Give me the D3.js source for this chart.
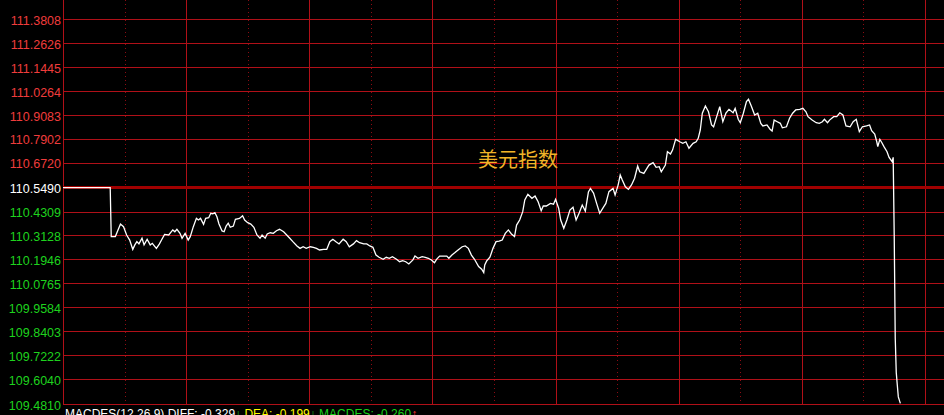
<!DOCTYPE html>
<html><head><meta charset="utf-8">
<script src="https://cdn.jsdelivr.net/npm/d3@7"></script>
<style>html,body{margin:0;padding:0;background:#000;overflow:hidden}svg{display:block}</style>
</head><body><svg id="c" width="944" height="415"></svg>
<script>
// ---- data ----
const tickLabels = ["111.3808","111.2626","111.1445","111.0264","110.9083","110.7902","110.6720","110.5490","110.4309","110.3128","110.1946","110.0765","109.9584","109.8403","109.7222","109.6040","109.4810"];
const refPrice = 110.5490;
const chartTitle = "美元指数";
const minutes = [0,46,47,51,56,59,62,65,68,70,72,74,77,79,82,85,87,91,94,96,99,103,107,109,111,114,116,119,122,124,127,130,132,134,137,139,142,144,146,148,150,152,155,157,159,161,163,166,168,172,175,177,180,183,186,189,192,194,197,199,202,205,208,211,215,218,221,224,228,231,234,237,241,244,247,250,254,257,260,263,266,269,273,276,279,283,286,289,293,296,299,302,305,308,312,315,318,321,325,328,331,334,337,341,343,346,350,353,356,359,362,364,367,371,374,376,379,382,385,389,392,395,398,401,405,408,410,411,413,416,419,422,425,428,431,434,437,440,442,445,448,450,453,457,460,463,466,468,471,475,478,480,483,485,488,491,494,497,500,503,506,509,512,514,517,520,523,527,529,532,536,538,541,543,545,548,551,554,557,560,562,566,569,571,575,578,581,583,587,589,592,594,597,601,604,607,610,614,617,619,621,623,626,629,632,634,637,640,643,646,649,653,655,658,660,663,666,668,671,674,677,680,682,686,689,691,693,696,699,701,705,708,711,714,718,721,724,726,730,734,737,740,742,745,747,751,754,757,760,763,767,770,773,776,779,783,786,788,791,793,794,796,798,800,803,805,808,809,810,811,812,813,814,816];
const prices = [110.549,110.549,110.307,110.307,110.369,110.356,110.315,110.290,110.244,110.266,110.282,110.271,110.299,110.266,110.294,110.266,110.274,110.249,110.271,110.290,110.318,110.315,110.340,110.331,110.343,110.323,110.299,110.323,110.290,110.307,110.356,110.397,110.389,110.397,110.368,110.397,110.400,110.422,110.419,110.425,110.405,110.369,110.335,110.331,110.359,110.373,110.353,110.359,110.392,110.397,110.410,110.389,110.376,110.369,110.353,110.315,110.299,110.315,110.299,110.320,110.326,110.323,110.336,110.343,110.331,110.315,110.299,110.282,110.261,110.249,110.257,110.249,110.257,110.254,110.249,110.241,110.244,110.244,110.282,110.294,110.282,110.271,110.294,110.282,110.257,110.271,110.287,110.277,110.271,110.271,110.261,110.254,110.216,110.205,110.195,110.205,110.200,110.208,110.195,110.183,110.188,110.183,110.172,110.192,110.211,110.200,110.208,110.205,110.200,110.192,110.178,110.195,110.211,110.211,110.211,110.200,110.216,110.228,110.241,110.257,110.261,110.249,110.216,110.195,110.159,110.146,110.129,110.167,110.188,110.205,110.249,110.282,110.285,110.290,110.323,110.340,110.320,110.307,110.364,110.389,110.430,110.488,110.516,110.496,110.507,110.479,110.435,110.458,110.458,110.471,110.467,110.491,110.447,110.389,110.348,110.389,110.438,110.452,110.389,110.424,110.463,110.433,110.527,110.545,110.522,110.471,110.422,110.455,110.471,110.529,110.545,110.512,110.562,110.611,110.586,110.553,110.540,110.562,110.595,110.655,110.627,110.619,110.644,110.660,110.672,110.649,110.652,110.627,110.660,110.726,110.715,110.734,110.787,110.775,110.767,110.775,110.743,110.767,110.775,110.792,110.833,110.916,110.952,110.923,110.858,110.849,110.899,110.948,110.874,110.916,110.935,110.918,110.940,110.886,110.869,110.916,110.973,110.985,110.948,110.907,110.916,110.866,110.853,110.858,110.837,110.828,110.882,110.874,110.866,110.844,110.849,110.891,110.916,110.932,110.935,110.940,110.923,110.899,110.882,110.869,110.866,110.874,110.886,110.869,110.882,110.899,110.899,110.918,110.907,110.853,110.849,110.874,110.886,110.825,110.849,110.853,110.858,110.830,110.813,110.775,110.751,110.787,110.770,110.751,110.726,110.698,110.677,110.698,110.315,109.807,109.636,109.575,109.516,109.484];
const legendTexts = ["MACDES(12,26,9) DIFF: -0.329","↓"," DEA: -0.199","↓"," MACDES: -0.260","↑"];
const legendKinds = ["white","down","yellow","down","green","up"];

// ---- styles / layout ----
const W = 944, H = 415;
const plotL = 63, plotR = 925, plotT = 19, plotB = 404;
const gridColor = "#b01018";
const legendColors = {white:"#ffffff", down:"#18d018", yellow:"#ffff00", green:"#18d018", up:"#ff3030"};

const svg = d3.select("#c");
svg.append("rect").attr("width", W).attr("height", H).attr("fill", "#000");

const x = d3.scaleLinear().domain([0, 840]).range([plotL, plotR]);
const yMin = +tickLabels[tickLabels.length - 1], yMax = +tickLabels[0];
const y = d3.scaleLinear().domain([yMin, yMax]).range([plotB, plotT]);

const crisp = v => Math.round(v) + 0.5;

// vertical grid lines
const hours = d3.range(0, 841, 60);
svg.append("g").selectAll("line").data(hours).join("line")
  .attr("x1", d => crisp(x(d))).attr("x2", d => crisp(x(d)))
  .attr("y1", 0).attr("y2", plotB)
  .attr("stroke", gridColor)
  .attr("stroke-width", 1)
  .attr("stroke-dasharray", (d, i) => i % 2 ? "1,3" : null)
  .attr("opacity", (d, i) => i % 2 ? 0.8 : 1);

// horizontal grid lines
const tickVals = tickLabels.map(Number);
svg.append("g").selectAll("line").data(tickVals).join("line")
  .attr("x1", plotL).attr("x2", W)
  .attr("y1", d => crisp(y(d))).attr("y2", d => crisp(y(d)))
  .attr("stroke", gridColor).attr("stroke-width", 1);

// reference line
svg.append("line")
  .attr("x1", plotL).attr("x2", W)
  .attr("y1", y(refPrice)).attr("y2", y(refPrice))
  .attr("stroke", "#a00000").attr("stroke-width", 3);

// y axis labels
const axis = d3.axisLeft(y).tickValues(tickVals).tickSize(0).tickPadding(2)
  .tickFormat((d, i) => tickLabels[i]);
const ag = svg.append("g").attr("transform", `translate(${plotL},0)`).call(axis);
ag.select(".domain").remove();
ag.selectAll("text")
  .attr("font-family", "'Liberation Sans', Arial, sans-serif")
  .attr("font-size", 12.5)
  .attr("dy", "0.42em")
  .attr("fill", d => d > refPrice + 1e-9 ? "#f03c3c" : (Math.abs(d - refPrice) < 1e-9 ? "#ffffff" : "#1ed21e"));

// price line
const pts = d3.zip(minutes, prices);
svg.append("path").datum(pts)
  .attr("fill", "none").attr("stroke", "#ffffff").attr("stroke-width", 1.3)
  .attr("d", d3.line().x(d => x(d[0])).y(d => y(d[1])));

// title
svg.append("text")
  .attr("x", 518).attr("y", 167)
  .attr("text-anchor", "middle")
  .attr("font-family", "'Noto Sans CJK SC', sans-serif")
  .attr("font-size", 20)
  .attr("fill", "#f0b428")
  .text(chartTitle);

// legend
const lg = svg.append("text")
  .attr("x", 65).attr("y", 418)
  .attr("font-family", "'Liberation Sans', Arial, sans-serif")
  .attr("font-size", 12);
lg.selectAll("tspan").data(legendTexts).join("tspan")
  .attr("fill", (d, i) => legendColors[legendKinds[i]])
  .text(d => d);
</script>
</body></html>
